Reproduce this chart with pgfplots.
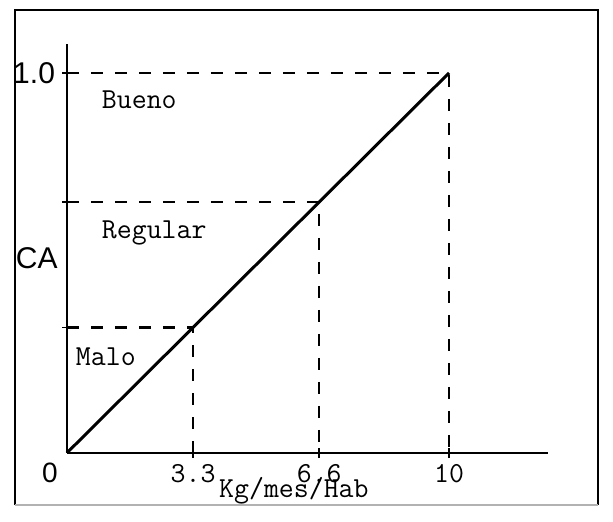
\documentclass[border=0pt]{standalone}
\usepackage{pgfplots}
\pgfplotsset{compat=1.18}
\usepackage{fontspec}
\setmainfont{Liberation Sans}
\newcommand\mono{\ttfamily\fontsize{14.5}{16}\selectfont}
\begin{document}
\begin{tikzpicture}
\begin{axis}[
 scale only axis, width=240.5pt, height=204.4pt,
 xmin=0, xmax=12.59, ymin=0, ymax=1.076,
 axis x line=bottom, axis y line=left,
 axis line style={-, line width=1pt},
 xtick={3.3,6.6,10}, xticklabels={3.3,6.6,10},
 ytick={0.33,0.66,1.0}, yticklabels={,,1.0},
 tick align=center, major tick length=5pt,
 tick style={line width=0.9pt, black},
 xticklabel style={font=\mono},
 yticklabel style={font=\fontsize{15}{17}\selectfont},
 clip=false,
]
\path (axis cs:-1.754,-0.1816) rectangle (axis cs:14.293,1.192);
\draw[line width=0.9pt] (axis cs:-1.361,-0.137) -- (axis cs:-1.361,1.166) -- (axis cs:13.9,1.166) -- (axis cs:13.9,-0.137);
\draw[line width=0.9pt, gray!60] (axis cs:-1.361,-0.137) -- (axis cs:13.9,-0.137);
\addplot[black, line width=1.5pt] coordinates {(0,0) (10,1.0)};
\addplot[black, line width=1.2pt, dash pattern=on 6pt off 6pt] coordinates {(0,1.0) (10,1.0) (10,0)};
\addplot[black, line width=1.2pt, dash pattern=on 6pt off 6pt] coordinates {(0,0.66) (6.6,0.66) (6.6,0)};
\addplot[black, line width=1.2pt, dash pattern=on 6pt off 6pt] coordinates {(0,0.33) (3.3,0.33) (3.3,0)};
\node[anchor=west, font=\mono] at (axis cs:0.73,0.929) {Bueno};
\node[anchor=west, font=\mono] at (axis cs:0.73,0.58) {Regular};
\node[anchor=west, font=\mono] at (axis cs:0.05,0.253) {Malo};
\node[anchor=west, font=\mono] at (axis cs:3.8,-0.1) {Kg/mes/Hab};
\node[font=\fontsize{15}{17}\selectfont] at (axis cs:-0.79,0.513) {CA};
\node[font=\fontsize{14}{16}\selectfont] at (axis cs:-0.445,-0.053) {0};
\end{axis}
\end{tikzpicture}
\end{document}
